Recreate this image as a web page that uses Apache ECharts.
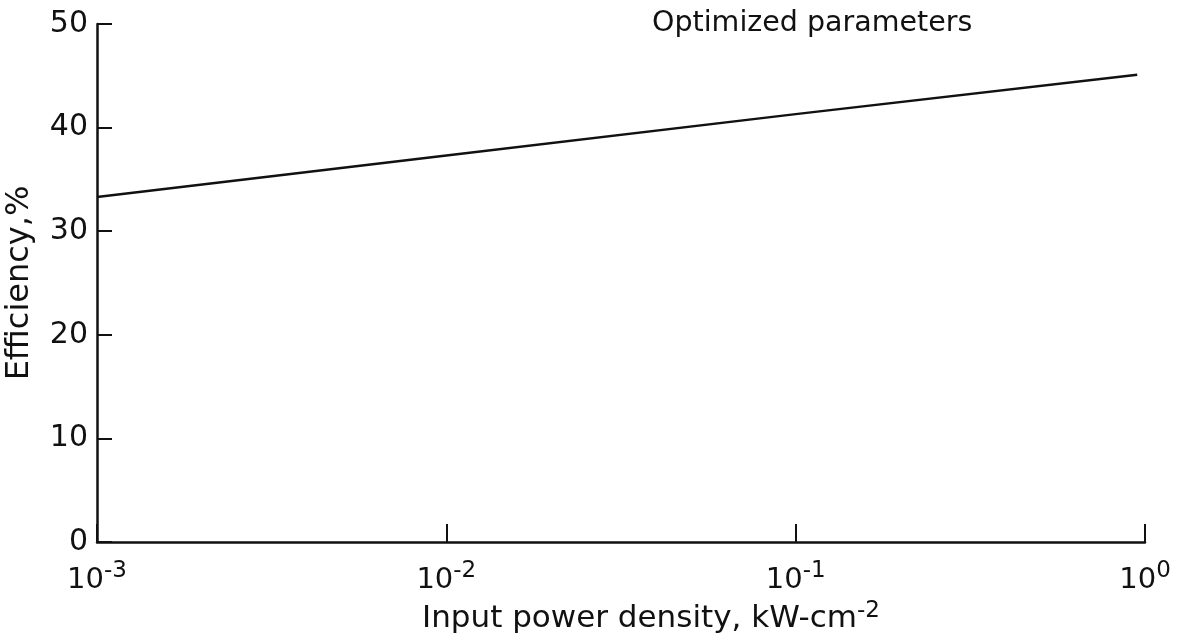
<!DOCTYPE html>
<html>
<head>
<meta charset="utf-8">
<script src="https://cdn.jsdelivr.net/npm/echarts@6/dist/echarts.min.js"></script>
<style>
  html, body { margin: 0; padding: 0; background: #fff; }
  #main { width: 1184px; height: 643px; }
</style>
</head>
<body>
<div id="main"></div>
<script>
// data
const powerDensity = [0.001, 0.01, 0.1, 0.95];   // kW-cm^-2
const efficiency = [33.3, 37.3, 41.3, 45.1];       // %
const yTicks = [0, 10, 20, 30, 40, 50];
const xExponents = ['-3', '-2', '-1', '0'];

const font = 'DejaVu Sans, Liberation Sans, Arial, sans-serif';
const black = '#111';

let chart = echarts.init(document.getElementById('main'));

let option = {
  backgroundColor: '#fff',
  animation: false,
  title: {
    text: 'Optimized parameters',
    left: 647,
    top: 4,
    textStyle: { fontFamily: font, fontSize: 28.5, fontWeight: 'normal', color: black }
  },
  grid: { left: 97, right: 39, top: 24, bottom: 101, containLabel: false, outerBoundsMode: 'none' },
  xAxis: {
    type: 'log',
    logBase: 10,
    min: 0.001,
    max: 1,
    name: 'Input power density, kW-cm{sup|-2}',
    nameLocation: 'middle',
    nameGap: 50,
    nameTextStyle: {
      fontFamily: font, fontSize: 31, color: black,
      padding: [0, 0, 0, 60],
      rich: {
        sup: { fontFamily: font, fontSize: 23, color: black, verticalAlign: 'bottom', padding: [0, 0, 17, 0] }
      }
    },
    axisLine: { show: true, lineStyle: { color: black, width: 2.5 } },
    axisTick: { show: true, inside: true, length: 18, lineStyle: { color: black, width: 2 } },
    splitLine: { show: false },
    minorTick: { show: false },
    axisLabel: {
      margin: 18,
      formatter: function (v) {
        let i = Math.round(Math.log10(v)) + 3;
        return '10{sup|' + xExponents[i] + '}';
      },
      fontFamily: font, fontSize: 29, color: black,
      rich: {
        sup: { fontFamily: font, fontSize: 23, color: black, verticalAlign: 'bottom', padding: [0, 0, 17, 0] }
      }
    }
  },
  yAxis: {
    type: 'value',
    min: 0,
    max: 50,
    interval: 10,
    name: 'Efficiency,%',
    nameLocation: 'middle',
    nameGap: 61,
    nameTextStyle: { fontFamily: font, fontSize: 32, color: black },
    axisLine: { show: true, lineStyle: { color: black, width: 2.5 } },
    axisTick: { show: true, inside: true, length: 15, lineStyle: { color: black, width: 2 } },
    splitLine: { show: false },
    axisLabel: {
      margin: 9,
      fontFamily: font, fontSize: 30, color: black,
      formatter: function (v) { return yTicks.indexOf(v) >= 0 ? String(v) : ''; }
    }
  },
  series: [{
    type: 'line',
    data: powerDensity.map((x, i) => [x, efficiency[i]]),
    showSymbol: false,
    lineStyle: { color: black, width: 2.5 }
  }]
};

chart.setOption(option);
</script>
</body>
</html>
